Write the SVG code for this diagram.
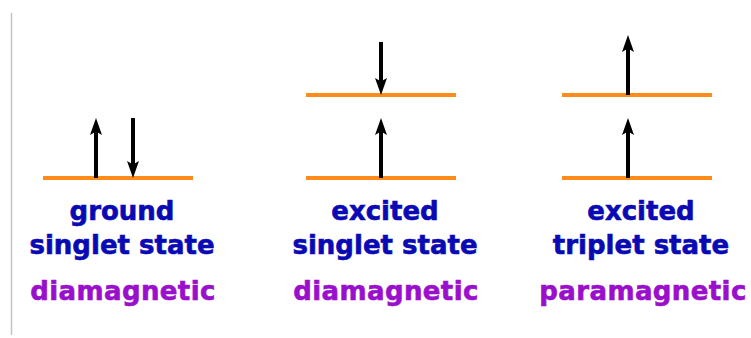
<svg xmlns="http://www.w3.org/2000/svg" width="751" height="338" viewBox="0 0 751 338">
  <defs>
    <style>
      .level { stroke: #ff8c1a; stroke-width: 4; fill: none; }
      .spin { stroke: #000; stroke-width: 4; fill: none; marker-end: url(#head); }
      .state { font-family: "DejaVu Sans", Verdana, sans-serif; font-weight: bold; font-size: 26px; fill: #0a0ab4; stroke: #0a0ab4; stroke-width: 0.6; text-anchor: middle; }
      .mag { font-family: "DejaVu Sans", Verdana, sans-serif; font-weight: bold; font-size: 26px; fill: #9a0fcc; stroke: #9a0fcc; stroke-width: 0.6; text-anchor: middle; letter-spacing: 0.4px; }
    </style>
    <marker id="head" markerUnits="userSpaceOnUse" markerWidth="24" markerHeight="18" viewBox="-6 -9 24 18" refX="0" refY="0" orient="auto" overflow="visible">
      <path d="M12,0 L-5,-6 L-1.5,0 L-5,6 Z" fill="#000"/>
    </marker>
  </defs>
  <rect width="751" height="338" fill="#fff"/>
  <line x1="11.5" y1="13" x2="11.5" y2="335" stroke="#c4c4c4" stroke-width="1.5"/>

  <g id="ground-singlet">
    <line class="level" x1="43" y1="178" x2="193" y2="178"/>
    <text class="state" x="122" y="220">ground</text>
    <text class="state" x="122" y="254">singlet state</text>
    <text class="mag" x="123" y="300">diamagnetic</text>
  </g>

  <g id="excited-singlet">
    <line class="level" x1="306" y1="95" x2="456" y2="95"/>
    <line class="level" x1="306" y1="178" x2="456" y2="178"/>
    <text class="state" x="385" y="220">excited</text>
    <text class="state" x="385" y="254">singlet state</text>
    <text class="mag" x="386" y="300">diamagnetic</text>
  </g>

  <g id="excited-triplet">
    <line class="level" x1="562" y1="95" x2="712" y2="95"/>
    <line class="level" x1="562" y1="178" x2="712" y2="178"/>
    <text class="state" x="641" y="220">excited</text>
    <text class="state" x="641" y="254">triplet state</text>
    <text class="mag" x="643" y="300">paramagnetic</text>
  </g>

  <g id="connectors">
    <line class="spin" x1="96" y1="178" x2="96" y2="130"/>
    <line class="spin" x1="133" y1="118" x2="133" y2="166"/>
    <line class="spin" x1="381" y1="42" x2="381" y2="83"/>
    <line class="spin" x1="381" y1="178" x2="381" y2="130"/>
    <line class="spin" x1="628" y1="95" x2="628" y2="47"/>
    <line class="spin" x1="628" y1="178" x2="628" y2="130"/>
  </g>
</svg>
